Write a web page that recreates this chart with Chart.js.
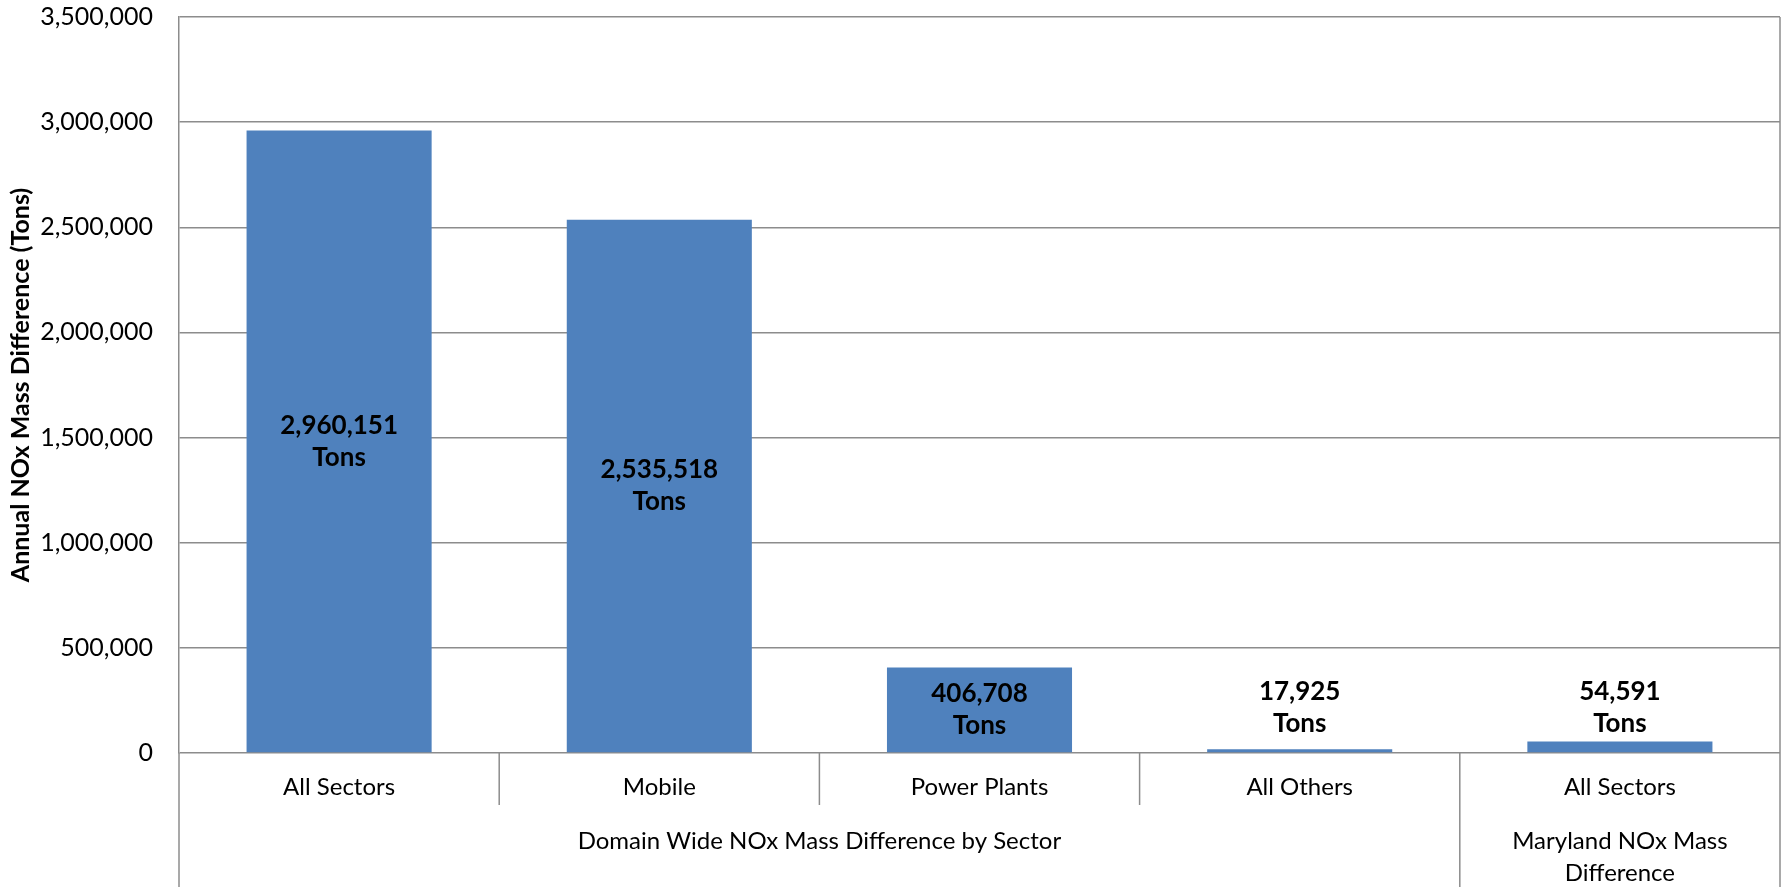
<!DOCTYPE html>
<html lang="en">
<head>
    <meta charset="UTF-8">
    <title>Annual NOx Mass Difference</title>
    <script src="https://cdn.jsdelivr.net/npm/chart.js"></script>
    <style>
        html, body { margin: 0; padding: 0; background: #fff; }
        #wrap { width: 1787px; height: 887px; position: relative; }
    </style>
</head>
<body>
    <div id="wrap"><canvas id="noxChart"></canvas></div>

    <script>
        // chart data
        const sectors = ["All Sectors", "Mobile", "Power Plants", "All Others", "All Sectors"];
        const noxTons = [2960151, 2535518, 406708, 17925, 54591];
        // second level of the category axis: label lines and how many sectors each group spans
        const groupLabels = [["Domain Wide NOx Mass Difference by Sector"], ["Maryland NOx Mass", "Difference"]];
        const groupSizes = [4, 1];
        const yTicks = [0, 500000, 1000000, 1500000, 2000000, 2500000, 3000000, 3500000];

        const FONT = "Lato, 'Noto Sans', sans-serif";
        const GRID = "#8c8c8c";

        const fmt = v => v.toLocaleString("en-US");

        // value labels: centred in tall bars, parked just above the axis for short ones
        const valueLabels = {
            id: "valueLabels",
            afterDatasetsDraw(chart) {
                const ctx = chart.ctx;
                const meta = chart.getDatasetMeta(0);
                const lh = 32;
                ctx.save();
                ctx.font = "bold 26px " + FONT;
                ctx.fillStyle = "#000";
                ctx.textAlign = "center";
                ctx.textBaseline = "middle";
                meta.data.forEach((bar, i) => {
                    const lines = [fmt(noxTons[i]), "Tons"];
                    let cy;
                    if (bar.base - bar.y > lh * 2 + 10) cy = (bar.y + bar.base) / 2;
                    else cy = bar.base - 45;
                    ctx.fillText(lines[0], bar.x, cy - lh / 2);
                    ctx.fillText(lines[1], bar.x, cy + lh / 2);
                });
                ctx.restore();
            }
        };

        // multi-level category axis: separators, plot border and group captions
        const groupAxis = {
            id: "groupAxis",
            afterDraw(chart) {
                const ctx = chart.ctx;
                const x = chart.scales.x;
                const area = chart.chartArea;
                const bottom = chart.height;
                const half = (x.getPixelForValue(1) - x.getPixelForValue(0)) / 2;
                ctx.save();
                ctx.strokeStyle = GRID;
                ctx.lineWidth = 1.5;
                const vline = (px, y0, y1) => {
                    ctx.beginPath();
                    ctx.moveTo(px, y0);
                    ctx.lineTo(px, y1);
                    ctx.stroke();
                };
                // right border of plot, running down through the axis block
                vline(area.right, area.top, bottom);
                vline(area.left, area.bottom, bottom);

                // boundaries between sectors
                const groupEnds = [];
                let acc = 0;
                groupSizes.forEach(n => { acc += n; groupEnds.push(acc); });
                for (let i = 1; i < sectors.length; i++) {
                    const px = x.getPixelForValue(i) - half;
                    const isGroupEdge = groupEnds.includes(i);
                    vline(px, area.bottom, isGroupEdge ? bottom : area.bottom + 52);
                }

                // group captions
                ctx.font = "24px " + FONT;
                ctx.fillStyle = "#000";
                ctx.textAlign = "center";
                ctx.textBaseline = "middle";
                let start = 0;
                groupSizes.forEach((n, g) => {
                    const left = x.getPixelForValue(start) - half;
                    const right = x.getPixelForValue(start + n - 1) + half;
                    const cx = (left + right) / 2;
                    groupLabels[g].forEach((line, k) => {
                        ctx.fillText(line, cx, area.bottom + 88 + k * 32);
                    });
                    start += n;
                });
                ctx.restore();
            }
        };

        new Chart(document.getElementById("noxChart"), {
            type: "bar",
            data: {
                labels: sectors,
                datasets: [{
                    label: "Annual NOx Mass Difference (Tons)",
                    data: noxTons,
                    backgroundColor: "#4f81bd",
                    borderWidth: 0,
                    categoryPercentage: 1,
                    barPercentage: 0.578
                }]
            },
            options: {
                responsive: true,
                maintainAspectRatio: false,
                animation: false,
                layout: { padding: { left: 6, top: 17, right: 7, bottom: 0 } },
                plugins: {
                    legend: { display: false },
                    tooltip: { enabled: false }
                },
                scales: {
                    x: {
                        grid: { display: false, drawTicks: false },
                        border: { display: false },
                        ticks: {
                            color: "#000",
                            font: { family: FONT, size: 24 },
                            padding: 20,
                            maxRotation: 0
                        },
                        afterFit(scale) { scale.height = 134; }
                    },
                    y: {
                        min: 0,
                        max: 3500000,
                        afterBuildTicks(scale) { scale.ticks = yTicks.map(v => ({ value: v })); },
                        // invisible tick marks give the gap between labels and axis
                        grid: { color: GRID, lineWidth: 1.5, drawTicks: true, tickLength: 26, tickColor: "rgba(0,0,0,0)" },
                        border: { display: true, color: GRID, width: 1.5 },
                        ticks: {
                            color: "#000",
                            font: { family: FONT, size: 25 },
                            padding: 0,
                            callback: v => fmt(v)
                        },
                        title: {
                            display: true,
                            text: "Annual NOx Mass Difference (Tons)",
                            color: "#000",
                            font: { family: FONT, size: 25, weight: "bold" },
                            padding: 0
                        },
                        afterFit(scale) { scale.width = 173; }
                    }
                }
            },
            plugins: [valueLabels, groupAxis]
        });
    </script>
</body>
</html>
